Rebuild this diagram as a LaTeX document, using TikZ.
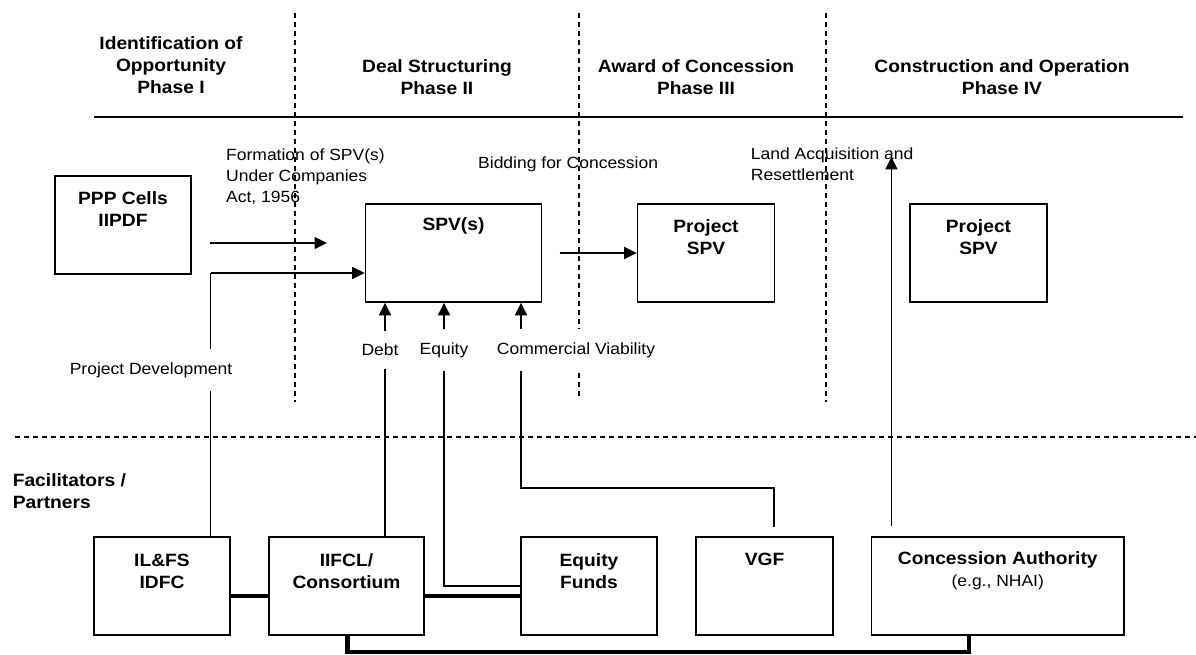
\documentclass[tikz,border=0pt]{standalone}
\usepackage{fontspec}
\setmainfont{Liberation Sans}[FakeStretch=1.08]
\usetikzlibrary{arrows.meta}
\tikzset{
 hdr/.style={font=\fontsize{17.8}{22}\selectfont\bfseries, align=center, inner sep=0},
 reg/.style={font=\fontsize{16.2}{21}\selectfont, inner sep=0},
 gaplbl/.style={reg, fill=white, inner xsep=1pt, inner ysep=13pt},
 box/.style={draw, line width=1.6pt, inner sep=0, minimum height=98pt},
 arr/.style={line width=1.7pt, -{Triangle[length=12.5pt,width=12pt]}},
 conn/.style={line width=1.4pt},
 thk/.style={line width=4.5pt},
 phase/.style={dash pattern=on 5pt off 4pt, line width=1.2pt}
}
\begin{document}
\begin{tikzpicture}[x=1pt,y=-1pt]
\useasboundingbox (0,0) rectangle (1196,655);

% phase headers
\node[hdr] (h1) at (171,65.5) {Identification of\\Opportunity\\Phase I};
\node[hdr] (h2) at (437,77) {Deal Structuring\\Phase II};
\node[hdr] (h3) at (696,77) {Award of Concession\\Phase III};
\node[hdr] (h4) at (1002,77) {Construction and Operation\\Phase IV};
\coordinate (hl1) at (94,117);
\coordinate (hl2) at (1183,117);
\draw[line width=1.7pt] (hl1) -- (hl2);

% phase separators
\coordinate (d1a) at (295,13); \coordinate (d1b) at (295,402);
\coordinate (d2a) at (579,13); \coordinate (d2b) at (579,398);
\coordinate (d3a) at (826,13); \coordinate (d3b) at (826,402);
\coordinate (dha) at (15,437); \coordinate (dhb) at (1196,437);
\draw[phase] (d1a) -- (d1b);
\draw[phase] (d2a) -- (d2b);
\draw[phase] (d3a) -- (d3b);
\draw[phase] (dha) -- (dhb);

% upper boxes
\node[box, minimum width=136pt] (ppp) at (123,225) {};
\node[hdr] (ppplbl) at (123,209) {PPP Cells\\IIPDF};
\node[box, minimum width=176pt] (spv) at (453.5,253) {};
\node[hdr] (spvlbl) at (453.5,226) {SPV(s)};
\node[box, minimum width=137pt] (pspv1) at (706,253) {};
\node[hdr] (pspv1lbl) at (706,237) {Project\\SPV};
\node[box, minimum width=137pt] (pspv2) at (978.5,253) {};
\node[hdr] (pspv2lbl) at (978.5,237) {Project\\SPV};

% lower boxes
\node[box, minimum width=136pt] (ilfs) at (162,586) {};
\node[hdr] (ilfslbl) at (162,571) {IL\&FS\\IDFC};
\node[box, minimum width=155pt] (iifcl) at (346.5,586) {};
\node[hdr] (iifcllbl) at (346.5,571) {IIFCL/\\Consortium};
\node[box, minimum width=136pt] (eqf) at (589,586) {};
\node[hdr] (eqflbl) at (589,571) {Equity\\Funds};
\node[box, minimum width=137pt] (vgf) at (764.5,586) {};
\node[hdr] (vgflbl) at (764.5,559) {VGF};
\node[box, minimum width=252.5pt] (ca) at (997.75,586) {};
\node[hdr] (calbl) at (997.75,571) {Concession Authority\\{\mdseries\fontsize{16.2}{22}\selectfont (e.g., NHAI)}};

\node[hdr, align=left, anchor=west] (fac) at (12.6,491.5) {Facilitators /\\Partners};

% labels
\node[reg, align=left, anchor=west] (form) at (226,177) {Formation of SPV(s)\\Under Companies\\Act, 1956};
\node[reg, anchor=west] (bid) at (478,164) {Bidding for Concession};
\node[reg, align=left, anchor=west] (land) at (750.7,164.5) {Land Acquisition and\\Resettlement};

% connectors
\coordinate (f1) at (210,243);
\coordinate (f2) at (327,243);
\draw[arr] (f1) -- (f2);

\coordinate (pdx) at (210.5,273);
\draw[conn] (ilfs.north -| pdx) -- (pdx);
\draw[arr] (pdx) -- (spv.west |- pdx);

\coordinate (b1) at (559.5,253);
\draw[arr] (b1) -- (pspv1.west);

\coordinate (dx) at (385,0);
\draw[arr] (iifcl.north -| dx) -- (spv.south -| dx);

\coordinate (ex) at (444,586);
\draw[arr] (eqf.west |- ex) -- (ex) -- (spv.south -| ex);

\coordinate (cvB) at (774,527);
\coordinate (cvk) at (521,488);
\draw[arr] (cvB) |- (cvk) -- (spv.south -| cvk);

\coordinate (laB) at (891.4,526);
\coordinate (laT) at (891.4,157);
\draw[arr] (laB) -- (laT);

\draw[thk] ([yshift=-10pt]ilfs.east) -- ([yshift=-10pt]iifcl.west);
\draw[thk] ([yshift=-10pt]iifcl.east) -- ([yshift=-10pt]eqf.west);
\coordinate (bt) at (969,652);
\draw[thk] ([xshift=1pt]iifcl.south) |- (bt) -- (ca.south -| bt);

% gap labels (drawn over lines)
\node[gaplbl] (pdlbl) at (151,370) {Project Development};
\node[gaplbl] (debt) at (380,350) {Debt};
\node[gaplbl] (eq) at (444,350) {Equity};
\node[gaplbl] (cv) at (576,350) {Commercial Viability};
\end{tikzpicture}
\end{document}
